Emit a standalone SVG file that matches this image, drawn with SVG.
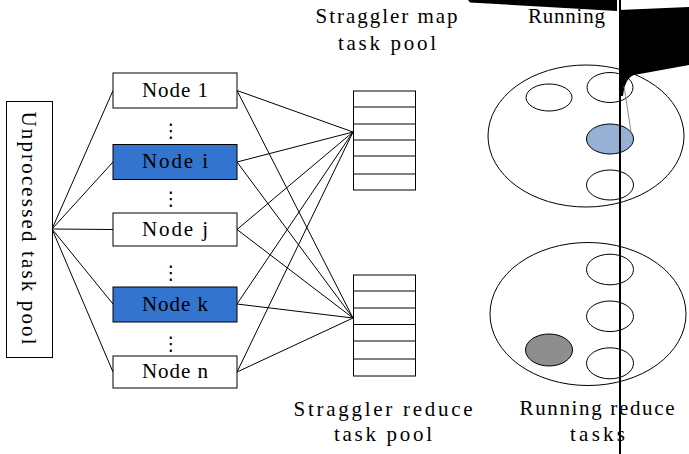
<svg xmlns="http://www.w3.org/2000/svg" width="689" height="454" viewBox="0 0 689 454">
<style>
.t{font-family:"Liberation Serif","Times New Roman",serif;font-size:21px;fill:#000}
.m{text-anchor:middle}
.box{fill:#fff;stroke:#000;stroke-width:1}
.blue{fill:#3374CE;stroke:#000;stroke-width:1}
.pool{fill:#fff;stroke:#000;stroke-width:1}
.row{stroke:#000;stroke-width:1}
.dots{font-family:"DejaVu Sans",sans-serif;font-size:19px;text-anchor:middle;fill:#000}
.el{fill:#fff;stroke:#000;stroke-width:1}
.conn line{stroke:#000;stroke-width:1}
</style>
<rect width="689" height="454" fill="#fff"/>
<g class="conn" id="connectors">
<line x1="52" y1="229" x2="113" y2="90.5"/>
<line x1="52" y1="229" x2="113" y2="162"/>
<line x1="52" y1="229" x2="113" y2="229.5"/>
<line x1="52" y1="229" x2="113" y2="304"/>
<line x1="52" y1="229" x2="113" y2="372"/>
<line x1="237" y1="90.5" x2="353" y2="132"/>
<line x1="237" y1="90.5" x2="353" y2="318"/>
<line x1="237" y1="162" x2="353" y2="132"/>
<line x1="237" y1="162" x2="353" y2="318"/>
<line x1="237" y1="229.5" x2="353" y2="132"/>
<line x1="237" y1="229.5" x2="353" y2="318"/>
<line x1="237" y1="304" x2="353" y2="132"/>
<line x1="237" y1="304" x2="353" y2="318"/>
<line x1="237" y1="372" x2="353" y2="132"/>
<line x1="237" y1="372" x2="353" y2="318"/>
</g>
<g id="unprocessed">
<rect class="box" x="6.5" y="101.5" width="46" height="256"/>
<text class="t m" transform="translate(22,228) rotate(90)" textLength="233" lengthAdjust="spacing">Unprocessed task pool</text>
</g>
<g id="node1"><rect class="box" x="113" y="73" width="124" height="35"/><text class="t m" x="175" y="97" textLength="66" lengthAdjust="spacing">Node 1</text></g>
<g id="nodei"><rect class="blue" x="113" y="144.5" width="124" height="35"/><text class="t m" x="175" y="168" textLength="66" lengthAdjust="spacing">Node i</text></g>
<g id="nodej"><rect class="box" x="113" y="213" width="124" height="33"/><text class="t m" x="175" y="236" textLength="66" lengthAdjust="spacing">Node j</text></g>
<g id="nodek"><rect class="blue" x="113" y="287" width="124" height="35"/><text class="t m" x="175" y="311" textLength="66" lengthAdjust="spacing">Node k</text></g>
<g id="noden"><rect class="box" x="113" y="356" width="124" height="32"/><text class="t m" x="175" y="378" textLength="66" lengthAdjust="spacing">Node n</text></g>
<g id="dots">
<text class="dots" x="171" y="137">⋮</text>
<text class="dots" x="171" y="205">⋮</text>
<text class="dots" x="171" y="279">⋮</text>
<text class="dots" x="171" y="350">⋮</text>
</g>
<g id="mappool">
<rect class="pool" x="353.5" y="91" width="62" height="99"/>
<line class="row" x1="353.5" y1="107" x2="415.5" y2="107"/>
<line class="row" x1="353.5" y1="124" x2="415.5" y2="124"/>
<line class="row" x1="353.5" y1="140" x2="415.5" y2="140"/>
<line class="row" x1="353.5" y1="156" x2="415.5" y2="156"/>
<line class="row" x1="353.5" y1="174" x2="415.5" y2="174"/>
<text class="t m" x="386.5" y="23" textLength="142" lengthAdjust="spacing">Straggler map</text>
<text class="t m" x="387" y="50" textLength="98" lengthAdjust="spacing">task pool</text>
</g>
<g id="reducepool">
<rect class="pool" x="353.5" y="275" width="62" height="101"/>
<line class="row" x1="353.5" y1="291" x2="415.5" y2="291"/>
<line class="row" x1="353.5" y1="308" x2="415.5" y2="308"/>
<line class="row" x1="353.5" y1="324.5" x2="415.5" y2="324.5"/>
<line class="row" x1="353.5" y1="341" x2="415.5" y2="341"/>
<line class="row" x1="353.5" y1="359" x2="415.5" y2="359"/>
<text class="t m" x="383" y="416" textLength="179" lengthAdjust="spacing">Straggler reduce</text>
<text class="t m" x="383" y="441" textLength="98" lengthAdjust="spacing">task pool</text>
</g>
<g id="runningmap">
<ellipse class="el" cx="586" cy="136" rx="98" ry="71"/>
<ellipse class="el" cx="549" cy="97.5" rx="23" ry="13.5"/>
<ellipse class="el" cx="610" cy="87.5" rx="23" ry="15"/>
<ellipse cx="610" cy="139" rx="23.5" ry="15" fill="#95B1D5" stroke="#000" stroke-width="1"/>
<ellipse class="el" cx="610" cy="185" rx="23.5" ry="15"/>
<text class="t" x="528" y="23" textLength="77" lengthAdjust="spacing">Running</text>
</g>
<g id="runningreduce">
<ellipse class="el" cx="588" cy="314" rx="98" ry="71.5"/>
<ellipse class="el" cx="610" cy="269.5" rx="23.5" ry="15.3"/>
<ellipse class="el" cx="610" cy="316.3" rx="23.5" ry="15.3"/>
<ellipse class="el" cx="610" cy="363.3" rx="23.5" ry="15.5"/>
<ellipse cx="549" cy="350" rx="23.5" ry="16" fill="#8E8E8E" stroke="#000" stroke-width="1"/>
<text class="t m" x="597" y="415" textLength="155" lengthAdjust="spacing">Running reduce</text>
<text class="t m" x="597.5" y="441" textLength="55" lengthAdjust="spacing">tasks</text>
</g>
<g id="artifact">
<polygon points="468,0 617,0 617,11 470,2.5" fill="#000"/>
<path d="M619,10 L689,7 L689,65 L634,75 Q625,78 623,96 L619,96 Z" fill="#000"/>
<line x1="624" y1="86" x2="631" y2="132" stroke="#888" stroke-width="1"/>
<line x1="620" y1="0" x2="620" y2="454" stroke="#000" stroke-width="2"/>
</g>
</svg>
